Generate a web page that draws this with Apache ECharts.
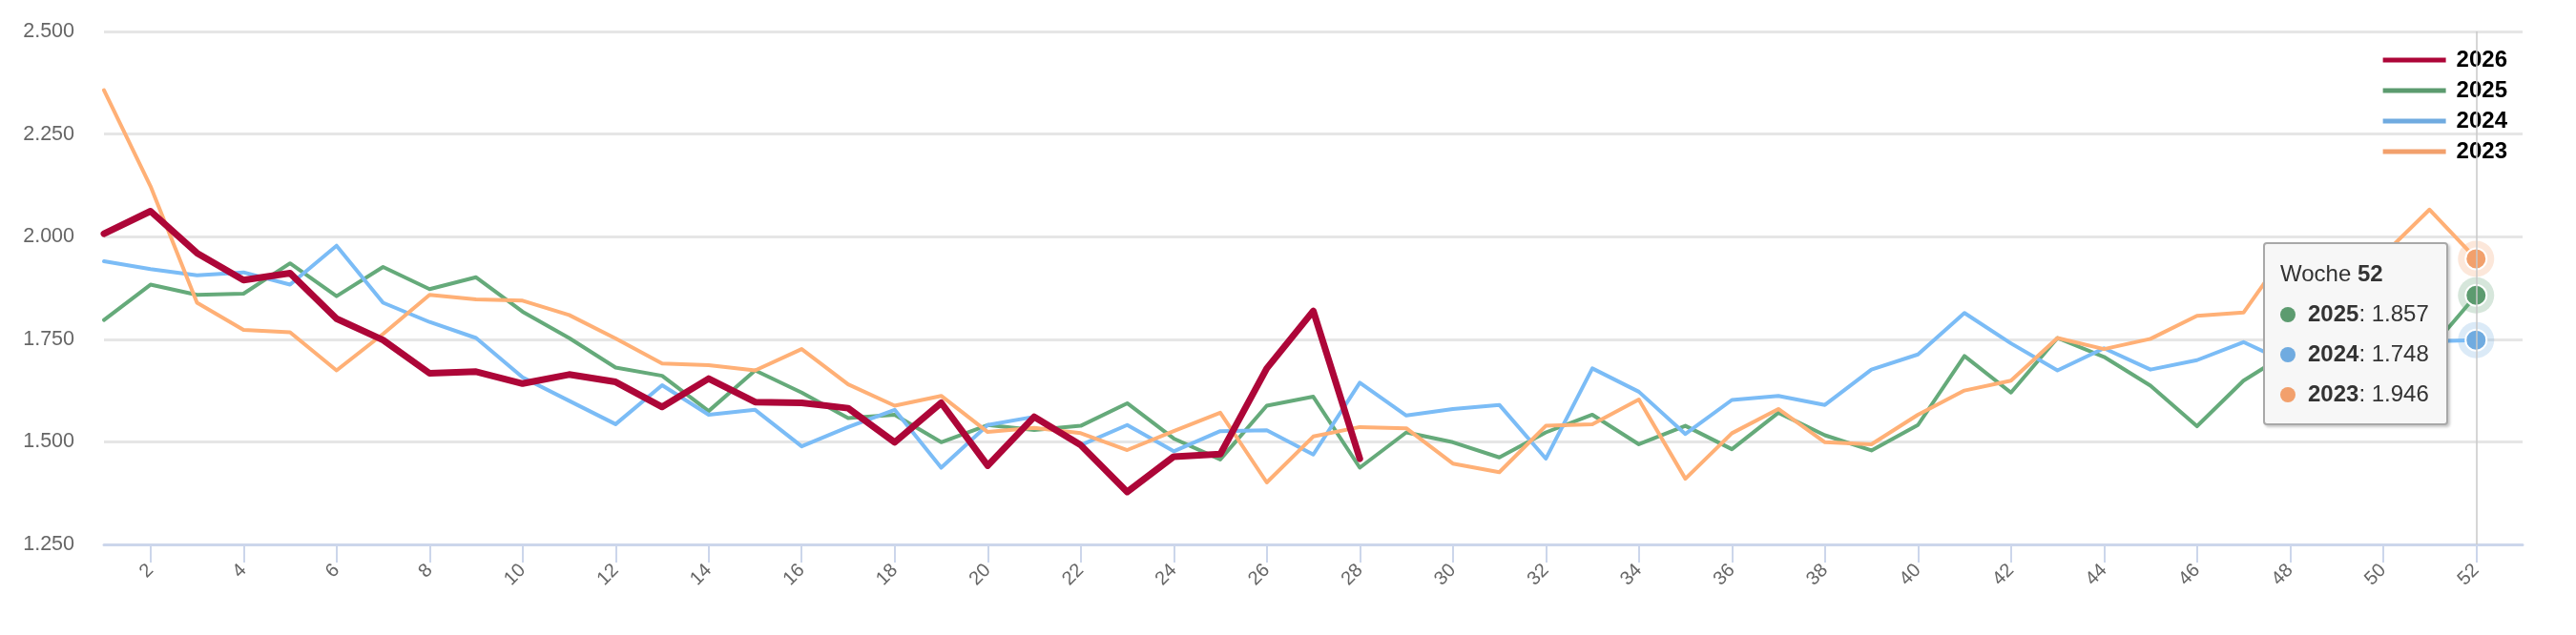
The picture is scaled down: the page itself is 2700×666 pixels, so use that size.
<!DOCTYPE html>
<html>
<head>
<meta charset="utf-8">
<title>Woche</title>
<script src="https://cdn.jsdelivr.net/npm/echarts@6/dist/echarts.min.js"></script>
<style>
  html, body { margin: 0; padding: 0; background: #fff; }
  #chart { width: 2700px; height: 666px; }
</style>
</head>
<body>
<div id="chart"></div>
<script>
// Kalenderwochen
var weeks = [1, 2, 3, 4, 5, 6, 7, 8, 9, 10, 11, 12, 13, 14, 15, 16, 17, 18, 19, 20,
    21, 22, 23, 24, 25, 26, 27, 28, 29, 30, 31, 32, 33, 34, 35, 36, 37, 38, 39, 40,
    41, 42, 43, 44, 45, 46, 47, 48, 49, 50, 51, 52];
var yTicks = [1.25, 1.5, 1.75, 2.0, 2.25, 2.5];

var s2026 = [2.007, 2.062, 1.960, 1.894, 1.911, 1.800, 1.748, 1.667, 1.671, 1.642,
    1.664, 1.646, 1.585, 1.654, 1.597, 1.595, 1.582, 1.499, 1.595, 1.442,
    1.561, 1.492, 1.378, 1.464, 1.470, 1.679, 1.819, 1.459];
var s2025 = [1.797, 1.883, 1.858, 1.861, 1.935, 1.855, 1.926, 1.872, 1.901, 1.817,
    1.753, 1.681, 1.661, 1.575, 1.674, 1.620, 1.558, 1.566, 1.499, 1.541,
    1.529, 1.539, 1.594, 1.508, 1.457, 1.588, 1.610, 1.437, 1.523, 1.499,
    1.462, 1.523, 1.566, 1.494, 1.539, 1.482, 1.571, 1.516, 1.479, 1.541,
    1.709, 1.620, 1.753, 1.707, 1.637, 1.538, 1.649, 1.720, 1.770, 1.750,
    1.724, 1.857];
var s2024 = [1.940, 1.921, 1.906, 1.913, 1.883, 1.978, 1.839, 1.792, 1.753, 1.657,
    1.600, 1.543, 1.638, 1.566, 1.578, 1.489, 1.536, 1.578, 1.437, 1.541,
    1.561, 1.492, 1.541, 1.477, 1.526, 1.528, 1.469, 1.644, 1.564, 1.580,
    1.590, 1.459, 1.679, 1.622, 1.519, 1.602, 1.612, 1.590, 1.676, 1.713,
    1.814, 1.740, 1.674, 1.728, 1.676, 1.699, 1.743, 1.690, 1.720, 1.740,
    1.745, 1.748];
var s2023 = [2.357, 2.123, 1.839, 1.773, 1.767, 1.674, 1.763, 1.858, 1.847, 1.844,
    1.809, 1.752, 1.691, 1.687, 1.674, 1.726, 1.640, 1.588, 1.612, 1.524,
    1.534, 1.521, 1.480, 1.526, 1.571, 1.401, 1.513, 1.536, 1.533, 1.447,
    1.426, 1.539, 1.543, 1.603, 1.410, 1.521, 1.580, 1.499, 1.494, 1.566,
    1.625, 1.649, 1.753, 1.726, 1.751, 1.807, 1.815, 1.975, 1.962, 1.955,
    2.066, 1.946];

var names = ['2026', '2025', '2024', '2023'];
var colors = ['#ad0638', '#5c9b6f', '#70abe0', '#f2a06c'];
var haloColors = ['rgba(173,6,56,0.25)', 'rgba(92,155,111,0.25)', 'rgba(112,171,224,0.25)', 'rgba(242,160,108,0.25)'];
var FONT = '"Liberation Sans", Arial, Helvetica, sans-serif';

var chart = echarts.init(document.getElementById('chart'));

function fmt(v) {
    return Number(v).toFixed(3);
}

function makeSeries(idx, data, width) {
    var last = data.length - 1;
    var s = {
        name: names[idx],
        type: 'line',
        data: data,
        z: idx === 0 ? 4 : 3,
        showSymbol: false,
        symbol: 'circle',
        symbolSize: 22,
        color: colors[idx],
        lineStyle: { width: width, color: colors[idx], join: 'round', cap: 'round' },
        itemStyle: { color: colors[idx], borderColor: '#fff', borderWidth: 2 },
        emphasis: { scale: false, lineStyle: { width: width } }
    };
    if (data.length === weeks.length) {
        // halo um den markierten Punkt (Woche 52)
        s.markPoint = {
            silent: true,
            z: 1,
            symbol: 'circle',
            symbolSize: 38,
            label: { show: false },
            itemStyle: { color: haloColors[idx] },
            data: [{ coord: [last, data[last]] }]
        };
    }
    return s;
}

function evenWeek(index, value) {
    return value !== '' && Number(value) % 2 === 0;
}

var option = {
    animation: false,
    textStyle: { fontFamily: FONT },
    grid: { left: 109, right: 56, top: 33, bottom: 95, outerBoundsMode: 'none' },
    legend: {
        data: names,
        orient: 'vertical',
        right: 67,
        top: 46,
        align: 'left',
        icon: 'rect',
        itemWidth: 66,
        itemHeight: 5,
        itemGap: 8,
        selectedMode: false,
        itemStyle: { borderWidth: 0 },
        lineStyle: { width: 5 },
        textStyle: { fontSize: 24, fontWeight: 'bold', color: '#000', fontFamily: FONT, lineHeight: 24, padding: [0, 0, 0, 6] }
    },
    tooltip: {
        trigger: 'axis',
        triggerOn: 'none',
        alwaysShowContent: true,
        transitionDuration: 0,
        backgroundColor: '#f7f7f7',
        borderColor: '#a8a8a8',
        borderWidth: 2,
        padding: [10, 18, 10, 16],
        extraCssText: 'box-shadow: 2px 2px 3px rgba(0,0,0,0.22); border-radius: 4px;',
        textStyle: { fontSize: 24, color: '#333', fontFamily: FONT },
        axisPointer: { type: 'line', lineStyle: { color: '#c8c8c8', width: 1.5, type: 'solid' } },
        position: function (point, params, dom, rect, size) {
            return [point[0] - size.contentSize[0] - 29, 254];
        },
        formatter: function (params) {
            var html = '<div style="line-height:42px">Woche <b>' + params[0].axisValue + '</b></div>';
            params.forEach(function (p) {
                if (p.value == null || p.value === '-') return;
                html += '<div style="line-height:42px">' +
                    '<span style="display:inline-block;width:16px;height:16px;border-radius:8px;background:' + p.color +
                    ';margin-right:13px;vertical-align:-1px"></span>' +
                    '<b>' + p.seriesName + '</b>: ' + fmt(p.value) + '</div>';
            });
            return html;
        }
    },
    xAxis: {
        type: 'category',
        boundaryGap: false,
        data: weeks.concat(['']),
        axisLine: { lineStyle: { color: '#ccd6eb', width: 3 } },
        axisTick: { show: true, length: 19, interval: evenWeek, lineStyle: { color: '#ccd6eb', width: 2 } },
        axisLabel: { interval: evenWeek, rotate: 45, margin: 24, fontSize: 20, color: '#666', fontFamily: FONT },
        splitLine: { show: false }
    },
    yAxis: {
        type: 'value',
        min: yTicks[0],
        max: yTicks[yTicks.length - 1],
        interval: 0.25,
        axisLine: { show: false },
        axisTick: { show: false },
        axisLabel: { margin: 31, fontSize: 21.5, color: '#666', fontFamily: FONT, formatter: fmt },
        splitLine: { lineStyle: { color: '#e6e6e6', width: 3 } }
    },
    series: [
        makeSeries(0, s2026, 7),
        makeSeries(1, s2025, 4),
        makeSeries(2, s2024, 4),
        makeSeries(3, s2023, 4)
    ]
};

chart.setOption(option);
chart.dispatchAction({ type: 'showTip', seriesIndex: 1, dataIndex: weeks.length - 1 });
</script>
</body>
</html>
